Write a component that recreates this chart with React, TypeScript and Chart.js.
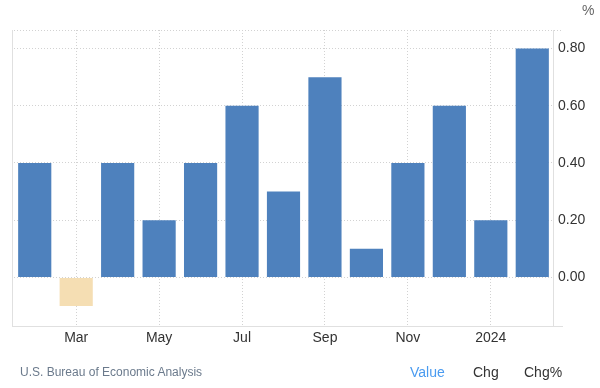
import React, { useEffect, useRef } from "react";
import { Chart, registerables } from "chart.js";

Chart.register(...registerables);

const categories = ["Feb", "Mar", "Apr", "May", "Jun", "Jul", "Aug", "Sep", "Oct", "Nov", "Dec", "2024", "Feb"];
const shownLabels = ["", "Mar", "", "May", "", "Jul", "", "Sep", "", "Nov", "", "2024", ""];
const values = [0.4, -0.1, 0.4, 0.2, 0.4, 0.6, 0.3, 0.7, 0.1, 0.4, 0.6, 0.2, 0.8];
const yTicks = [0, 0.2, 0.4, 0.6, 0.8];

const FONT = "'Liberation Sans', Arial, sans-serif";
const GRID = "#d2d2d2";

const framePlugin = {
  id: "frame",
  beforeDatasetsDraw(chart: any) {
    const { ctx, chartArea } = chart;
    const { left, right, top, bottom } = chartArea;
    ctx.save();
    ctx.lineWidth = 1;
    // top dotted line
    ctx.strokeStyle = GRID;
    ctx.setLineDash([1, 2]);
    ctx.beginPath();
    ctx.moveTo(left, Math.round(top) + 0.5);
    ctx.lineTo(right + 10, Math.round(top) + 0.5);
    ctx.stroke();
    ctx.setLineDash([]);
    // left solid line
    ctx.strokeStyle = "#e0e0e0";
    ctx.beginPath();
    ctx.moveTo(Math.round(left) - 1.5, top);
    ctx.lineTo(Math.round(left) - 1.5, bottom);
    ctx.stroke();
    // bottom solid line extension
    ctx.beginPath();
    ctx.moveTo(left - 2, Math.round(bottom) + 0.5);
    ctx.lineTo(right + 10, Math.round(bottom) + 0.5);
    ctx.stroke();
    ctx.restore();
  },
};

export default function App() {
  const ref = useRef<HTMLCanvasElement>(null);

  useEffect(() => {
    if (!ref.current) return;
    const chart = new Chart(ref.current, {
      type: "bar",
      data: {
        labels: categories,
        datasets: [
          {
            data: values,
            backgroundColor: values.map((v) => (v < 0 ? "#f5deb3" : "#4e81bd")),
            borderWidth: 0,
            barPercentage: 0.8,
            categoryPercentage: 1,
          },
        ],
      },
      options: {
        animation: false,
        responsive: false,
        maintainAspectRatio: false,
        layout: { padding: { left: 14, top: 30, right: 0, bottom: 0 } },
        plugins: { legend: { display: false }, tooltip: { enabled: false } },
        scales: {
          x: {
            grid: {
              offset: false,
              drawTicks: false,
              color: (c: any) => (shownLabels[c.index] ? GRID : "rgba(0,0,0,0)"),
            },
            border: { display: true, color: "#e0e0e0", dash: [1, 2] },
            ticks: {
              autoSkip: false,
              maxRotation: 0,
              padding: 4,
              color: "#333333",
              font: { family: FONT, size: 14 },
              callback: (_v: any, i: number) => shownLabels[i],
            },
            afterFit: (axis: any) => {
              axis.height = 62;
            },
          },
          y: {
            position: "right",
            min: -0.17,
            max: 0.865,
            grid: {
              drawTicks: false,
              color: GRID,
            },
            border: { display: true, color: "#e0e0e0", dash: [1, 2] },
            ticks: {
              padding: 5,
              color: "#333333",
              font: { family: FONT, size: 14 },
              callback: (v: any) => Number(v).toFixed(2),
            },
            afterBuildTicks: (axis: any) => {
              axis.ticks = yTicks.map((v) => ({ value: v }));
            },
            afterFit: (axis: any) => {
              axis.width = 47;
            },
          },
        },
      },
      plugins: [framePlugin],
    } as any);
    return () => chart.destroy();
  }, []);

  return (
    <div style={{ position: "fixed", left: 0, top: 0, width: 600, height: 388, background: "#fff", fontFamily: FONT }}>
      <canvas ref={ref} width={600} height={388} style={{ position: "absolute", left: 0, top: 0, width: 600, height: 388 }} />
      <div style={{ position: "absolute", left: 582, top: 2, fontSize: 14, color: "#666" }}>%</div>
      <div style={{ position: "absolute", left: 20, top: 365, fontSize: 12, color: "#6b7a8c" }}>U.S. Bureau of Economic Analysis</div>
      <div style={{ position: "absolute", left: 410, top: 364, fontSize: 14, color: "#4a9bf0" }}>Value</div>
      <div style={{ position: "absolute", left: 473, top: 364, fontSize: 14, color: "#333333" }}>Chg</div>
      <div style={{ position: "absolute", left: 524, top: 364, fontSize: 14, color: "#333333" }}>Chg%</div>
    </div>
  );
}
